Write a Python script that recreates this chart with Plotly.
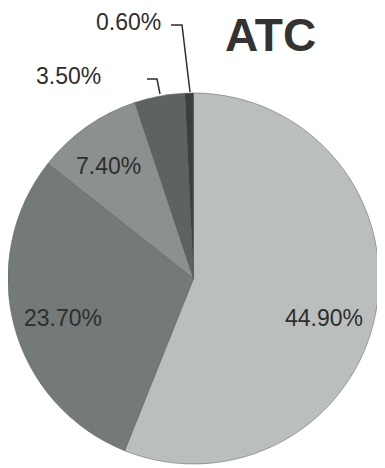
import plotly.graph_objects as go

# slice values (%) clockwise from 12 o'clock
values = [44.90, 23.70, 7.40, 3.50, 0.60]
labels = ["44.90%", "23.70%", "7.40%", "3.50%", "0.60%"]
colors = ["#babebd", "#737a78", "#8b918f", "#5c6361", "#3b403f"]
title_text = "ATC"

W, H = 385, 468
OFF = 8  # page body margin the figure sits inside


def px_x(x):
    return (x - OFF) / W


def px_y(y):
    return 1 - (y - OFF) / H


fig = go.Figure()

fig.add_trace(go.Pie(
    values=values,
    labels=labels,
    sort=False,
    direction='clockwise',
    rotation=0,
    marker=dict(colors=colors, line=dict(color='#555a59', width=0.5)),
    textinfo='none',
    hoverinfo='label',
    showlegend=False,
    domain=dict(x=[0, 371 / W], y=[px_y(465), px_y(92)]),
))

# label positions in pixels (centre of text)
label_pos = [(324, 318), (63, 318), (109, 166), (68, 76), (128, 22)]
for txt, (x, y) in zip(labels, label_pos):
    fig.add_annotation(
        x=px_x(x), y=px_y(y), xref='paper', yref='paper',
        xanchor='center', yanchor='middle',
        text=txt, showarrow=False,
        font=dict(family='Liberation Sans, Arial', size=23, color='#2e2e2e'),
    )

# leader lines for the small slices
leaders = [
    [(147, 79), (157, 79), (160, 94)],
    [(171, 25), (182, 25), (190, 92)],
]
for pts in leaders:
    path = "M " + " L ".join(f"{px_x(x)},{px_y(y)}" for x, y in pts)
    fig.add_shape(type='path', path=path, xref='paper', yref='paper',
                  line=dict(color='#2e2e2e', width=1.5))

fig.add_annotation(
    x=px_x(270), y=px_y(35), xref='paper', yref='paper',
    xanchor='center', yanchor='middle',
    text=f"<b>{title_text}</b>", showarrow=False,
    font=dict(family='Liberation Sans, Arial', size=46, color='#333333'),
)

fig.update_layout(
    width=W, height=H,
    margin=dict(l=0, r=0, t=0, b=0),
    paper_bgcolor='white',
    plot_bgcolor='white',
)

fig.write_html("out.html")
